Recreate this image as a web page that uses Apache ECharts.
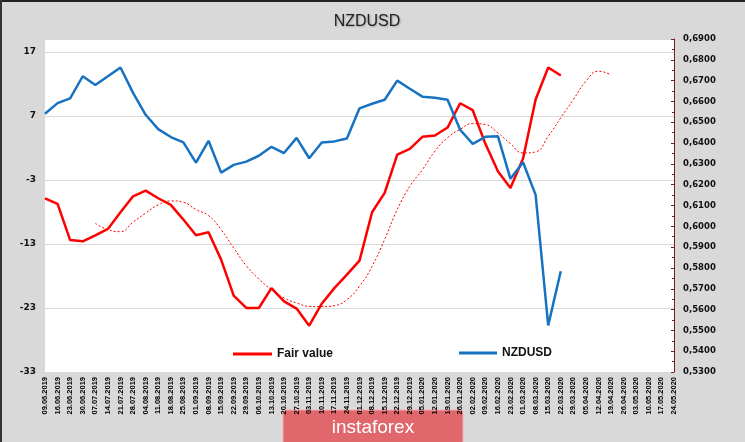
<!DOCTYPE html>
<html>
<head>
<meta charset="utf-8">
<script src="https://cdn.jsdelivr.net/npm/echarts@6/dist/echarts.min.js"></script>
<style>
html,body{margin:0;padding:0;background:#d9d9d9;}
#c{width:745px;height:442px;}
</style>
</head>
<body>
<div id="c"></div>
<script>
const categories = ["09.06.2019","16.06.2019","23.06.2019","30.06.2019","07.07.2019","14.07.2019","21.07.2019","28.07.2019","04.08.2019","11.08.2019","18.08.2019","25.08.2019","01.09.2019","08.09.2019","15.09.2019","22.09.2019","29.09.2019","06.10.2019","13.10.2019","20.10.2019","27.10.2019","03.11.2019","10.11.2019","17.11.2019","24.11.2019","01.12.2019","08.12.2019","15.12.2019","22.12.2019","29.12.2019","05.01.2020","12.01.2020","19.01.2020","26.01.2020","02.02.2020","09.02.2020","16.02.2020","23.02.2020","01.03.2020","08.03.2020","15.03.2020","22.03.2020","29.03.2020","05.04.2020","12.04.2020","19.04.2020","26.04.2020","03.05.2020","10.05.2020","17.05.2020","24.05.2020"];

const fairValue = [-5.9,-6.75,-12.4,-12.6,-11.65,-10.66,-8.06,-5.56,-4.67,-5.87,-6.9,-9.2,-11.65,-11.19,-15.45,-21.08,-23.0,-23.0,-19.9,-21.97,-23.1,-25.77,-22.33,-19.9,-17.8,-15.6,-8.06,-5.03,0.95,1.84,3.72,3.92,5.17,8.97,7.88,2.67,-1.65,-4.25,0.33,9.55,14.55,13.3];

const fairValueAvg = [null,null,null,null,-9.8,-10.77,-11.08,-9.6,-8.2,-6.9,-6.28,-6.5,-7.64,-8.58,-10.77,-13.63,-16.4,-18.47,-20.14,-21.44,-22.22,-22.75,-22.8,-22.64,-21.7,-19.6,-16.5,-12.3,-7.64,-4.0,-1.4,1.5,3.6,4.9,5.8,5.64,4.34,2.67,1.2,1.37,3.8,6.7,9.55,12.4,13.97,13.4];

const nzdusd = [0.6541,0.6592,0.6615,0.6721,0.6679,0.6721,0.6763,0.6641,0.6536,0.6467,0.6429,0.6403,0.6306,0.6411,0.6258,0.6295,0.6311,0.6339,0.6382,0.6352,0.6425,0.6327,0.6403,0.6408,0.6422,0.6567,0.6589,0.6608,0.6700,0.6661,0.6623,0.6618,0.6608,0.6464,0.6396,0.6430,0.6433,0.6228,0.6308,0.6151,0.5524,0.5784];

const leftTicks = {min:-33, max:19, interval:10};
const rightTicks = {min:0.53, max:0.69, interval:0.01};

const chart = echarts.init(document.getElementById('c'));
chart.setOption({
  backgroundColor:'#d9d9d9',
  animation:false,
  title:{text:'NZDUSD', left:362, top:9, textAlign:'center',
    textStyle:{fontFamily:'Liberation Sans', fontSize:16, fontWeight:'normal', color:'#222',
      textShadowColor:'rgba(0,0,0,0.25)', textShadowBlur:2, textShadowOffsetX:1, textShadowOffsetY:1}},
  grid:{left:45, right:71, top:39, bottom:70, show:true, backgroundColor:'#ffffff', borderWidth:0},
  legend:[
    {data:['Fair value'], left:228, top:343, icon:'rect', itemWidth:39, itemHeight:3, itemGap:0,
     textStyle:{fontFamily:'Liberation Sans', fontWeight:'bold', fontSize:12, color:'#111'}},
    {data:['NZDUSD'], left:454, top:342, icon:'rect', itemWidth:38, itemHeight:3, itemGap:0,
     textStyle:{fontFamily:'Liberation Sans', fontWeight:'bold', fontSize:12, color:'#111'}}
  ],
  xAxis:{type:'category', data:categories, boundaryGap:false,
    axisLine:{show:false}, axisTick:{show:false}, splitLine:{show:false},
    axisLabel:{interval:0, rotate:90, margin:5, fontFamily:'Liberation Sans', fontWeight:'bold', fontSize:7.5, color:'#000'}},
  yAxis:[
    {type:'value', min:leftTicks.min, max:leftTicks.max, interval:leftTicks.interval, position:'left',
     axisLine:{show:false}, axisTick:{show:false},
     splitLine:{show:true, lineStyle:{color:'#d9d9d9', width:1}},
     axisLabel:{showMaxLabel:false, margin:9, fontFamily:'DejaVu Sans', fontWeight:'bold', fontSize:9, color:'#111'}},
    {type:'value', min:rightTicks.min, max:rightTicks.max, interval:rightTicks.interval, position:'right',
     axisLine:{show:true, lineStyle:{color:'#7a1a1a', width:1}},
     axisTick:{show:true, inside:true, length:3, lineStyle:{color:'#7a1a1a'}},
     minorTick:{show:true, splitNumber:2, length:2, lineStyle:{color:'#7a1a1a'}},
     splitLine:{show:false},
     axisLabel:{margin:9, fontFamily:'DejaVu Sans', fontWeight:'bold', fontSize:8.5, color:'#111',
       formatter:function(v){return v.toFixed(4).replace('.',',');}}}
  ],
  series:[
    {name:'Fair value', type:'line', yAxisIndex:0, data:fairValue, symbol:'none', smooth:false,
     lineStyle:{color:'#ff0000', width:2.5}, itemStyle:{color:'#ff0000'}, z:3},
    {name:'Fair value avg', type:'line', yAxisIndex:0, data:fairValueAvg, symbol:'none', smooth:true,
     lineStyle:{color:'#ff0000', width:1, type:[2,2]}, itemStyle:{color:'#ff0000'}, z:2},
    {name:'NZDUSD', type:'line', yAxisIndex:1, data:nzdusd, symbol:'none',
     lineStyle:{color:'#1872c2', width:2.5}, itemStyle:{color:'#1872c2'}, z:4}
  ],
  graphic:[
    {type:'rect', shape:{x:0,y:0,width:745,height:2}, style:{fill:'#222'}, silent:true},
    {type:'rect', shape:{x:0,y:0,width:2,height:442}, style:{fill:'#333'}, silent:true},
    {type:'rect', shape:{x:283,y:410,width:180,height:40, r:3}, style:{fill:'#e0676b', stroke:'#f2b0b2', lineWidth:1}, silent:true},
    {type:'text', x:373, y:428, style:{text:'instaforex', fill:'#ffffff', font:'19px "Liberation Sans"', align:'center', verticalAlign:'middle'}, silent:true}
  ]
});
</script>
</body>
</html>
